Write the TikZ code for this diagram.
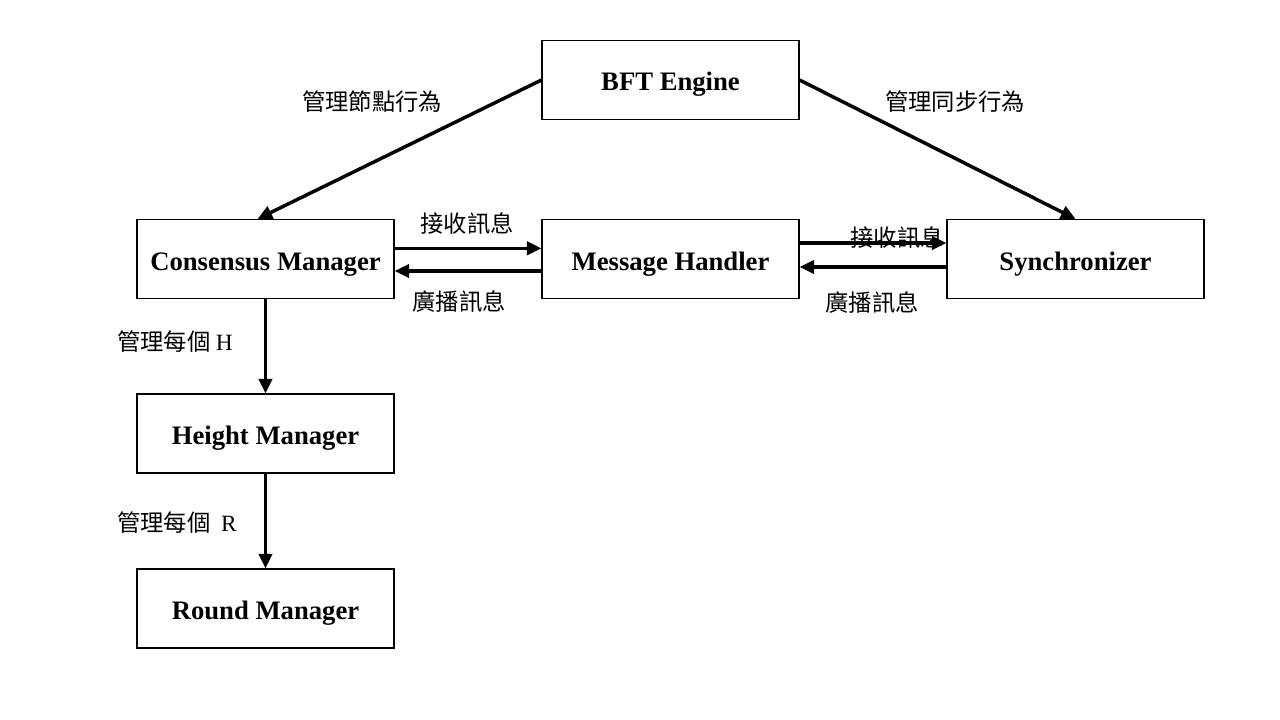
\documentclass[tikz,border=0pt]{standalone}
\usepackage{fontspec}
\setmainfont{Liberation Serif}
\newfontfamily\cjk{Noto Sans CJK TC}
\usetikzlibrary{arrows.meta}

\tikzset{
  module/.style={draw, line width=0.8pt, minimum width=192.75pt, minimum height=59.25pt,
    text height=18pt, text depth=1.5pt,
    font=\fontsize{20}{24}\selectfont\bfseries},
  flow/.style={line width=2.6pt, -{Triangle[length=11pt,width=10pt]}},
  lbl/.style={font=\fontsize{17.5}{20}\selectfont\cjk, inner sep=0}
}

\begin{document}
\begin{tikzpicture}[x=0.75pt,y=-0.75pt]
\useasboundingbox (0,0) rectangle (1280,720);
% modules
\node[module] (bft)  at (670.5,80)    {BFT Engine};
\node[module] (cm)   at (265.5,259)   {Consensus Manager};
\node[module] (mh)   at (670.5,259)   {Message Handler};
\node[module] (sync) at (1075.5,259)  {Synchronizer};
\node[module] (hm)   at (265.5,433.5) {Height Manager};
\node[module] (rm)   at (265.5,608.5) {Round Manager};

% connectors
\draw[flow] (bft.west) -- ([xshift=-6pt]cm.north);
\draw[flow] (bft.east) -- (sync.north);
\draw[flow] ([yshift=8pt]cm.east) -- ([yshift=8pt]mh.west);
\draw[flow] ([yshift=-9pt]mh.west) -- ([yshift=-9pt]cm.east);
\draw[flow] ([yshift=12pt]mh.east) -- ([yshift=12pt]sync.west);
\draw[flow] ([yshift=-6pt]sync.west) -- ([yshift=-6pt]mh.east);
\draw[flow] (cm.south) -- (hm.north);
\draw[flow] (hm.south) -- (rm.north);

% labels
\node[lbl] (l1) at (372,102) {管理節點行為};
\node[lbl] (l2) at (955,102) {管理同步行為};
\node[lbl] (l3) at (467,224) {接收訊息};
\node[lbl] (l4) at (459,302) {廣播訊息};
\node[lbl] (l5) at (897,238) {接收訊息};
\node[lbl] (l6) at (872,303) {廣播訊息};
\node[lbl] (l7) at (175,342) {管理每個 {\rmfamily H}};
\node[lbl] (l8) at (177,523) {管理每個\ \ {\rmfamily R}};
\end{tikzpicture}
\end{document}
